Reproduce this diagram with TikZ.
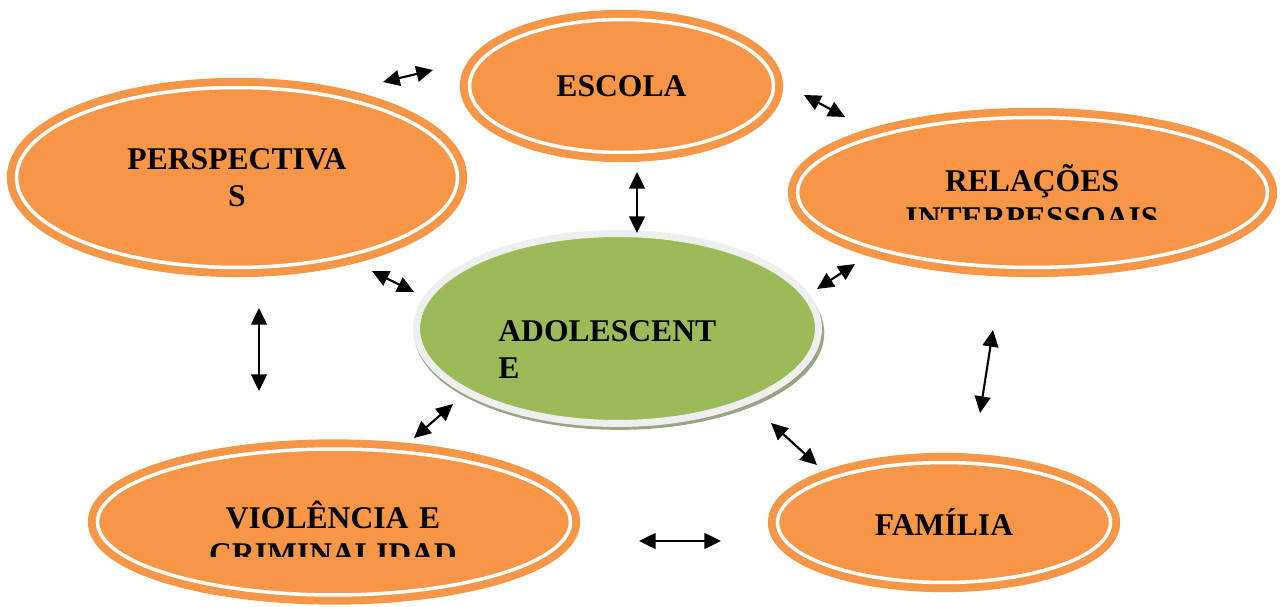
\documentclass[tikz,border=0pt]{standalone}
\usepackage{fontspec}
\setmainfont{Liberation Serif}
\usetikzlibrary{shapes.geometric,arrows.meta,shadows}
\definecolor{orng}{HTML}{F79646}
\definecolor{grn}{HTML}{9BBB59}
\definecolor{rim}{HTML}{EFEFEF}

\begin{document}
\begin{tikzpicture}[x=0.02cm,y=-0.02cm,
    ring/.style={ellipse, inner sep=0pt, fill=orng, draw=white, line width=2pt,
      preaction={draw=orng, line width=11pt}},
    core/.style={ellipse, inner sep=0pt, fill=grn, draw=rim, line width=4pt,
      drop shadow={shadow xshift=1pt, shadow yshift=-2.5pt, shadow scale=1.02,
        fill=black!45!grn, opacity=0.6}},
    lbl/.style={inner sep=0pt, text width=9cm, align=center,
      font=\bfseries\fontsize{18}{20.7}\selectfont},
    link/.style={line width=1.2pt, {Triangle[length=9.5pt,width=9pt]}-{Triangle[length=9.5pt,width=9pt]}}]
  \useasboundingbox (0,0) rectangle (1280,607);

  \node[ring, minimum width=6.08cm, minimum height=2.66cm] (escola) at (621.5,86) {};
  \node[ring, minimum width=8.82cm, minimum height=3.6cm] (persp) at (237,177.5) {};
  \node[ring, minimum width=9.4cm, minimum height=3.0cm] (relacoes) at (1032.5,192.5) {};
  \node[ring, minimum width=9.46cm, minimum height=2.92cm] (violencia) at (334,522) {};
  \node[ring, minimum width=6.66cm, minimum height=2.4cm] (familia) at (944,522.5) {};
  \node[core, minimum width=8.04cm, minimum height=3.8cm] (adol) at (617.5,328.5) {};

  \node[lbl, anchor=base] (escolaT) at (621.5,97) {ESCOLA};
  \node[lbl, anchor=base] (perspT) at (237,170) {PERSPECTIVA\\S};
  \begin{scope}
    \clip (780,100) rectangle (1280,220);
    \node[lbl, anchor=base] (relacoesT) at (1032,192) {RELAÇÕES\\INTERPESSOAIS};
  \end{scope}
  \node[lbl, text width=6cm, align=left, anchor=base west] (adolT) at (498,342) {ADOLESCENT\\E};
  \begin{scope}
    \clip (80,430) rectangle (590,556);
    \node[lbl, anchor=base] (violenciaT) at (333,528) {VIOLÊNCIA E\\CRIMINALIDAD};
  \end{scope}
  \node[lbl, anchor=base] (familiaT) at (944,535) {FAMÍLIA};

  \coordinate (p1) at (383,82);   \coordinate (q1) at (433,70);
  \coordinate (p2) at (804,95);   \coordinate (q2) at (845,117);
  \coordinate (p3) at (637,172);  \coordinate (q3) at (637,233);
  \coordinate (p4) at (372,271);  \coordinate (q4) at (414,292);
  \coordinate (p5) at (817,289);  \coordinate (q5) at (855,264);
  \coordinate (p6) at (259,308);  \coordinate (q6) at (259,391);
  \coordinate (p7) at (993,330);  \coordinate (q7) at (980,413);
  \coordinate (p8) at (414,438);  \coordinate (q8) at (453,404);
  \coordinate (p9) at (771,423);  \coordinate (q9) at (817,465);
  \coordinate (p10) at (639,541); \coordinate (q10) at (721,541);

  \draw[link] (p1) -- (q1);
  \draw[link] (p2) -- (q2);
  \draw[link] (p3) -- (q3);
  \draw[link] (p4) -- (q4);
  \draw[link] (p5) -- (q5);
  \draw[link] (p6) -- (q6);
  \draw[link] (p7) -- (q7);
  \draw[link] (p8) -- (q8);
  \draw[link] (p9) -- (q9);
  \draw[link] (p10) -- (q10);
\end{tikzpicture}
\end{document}
